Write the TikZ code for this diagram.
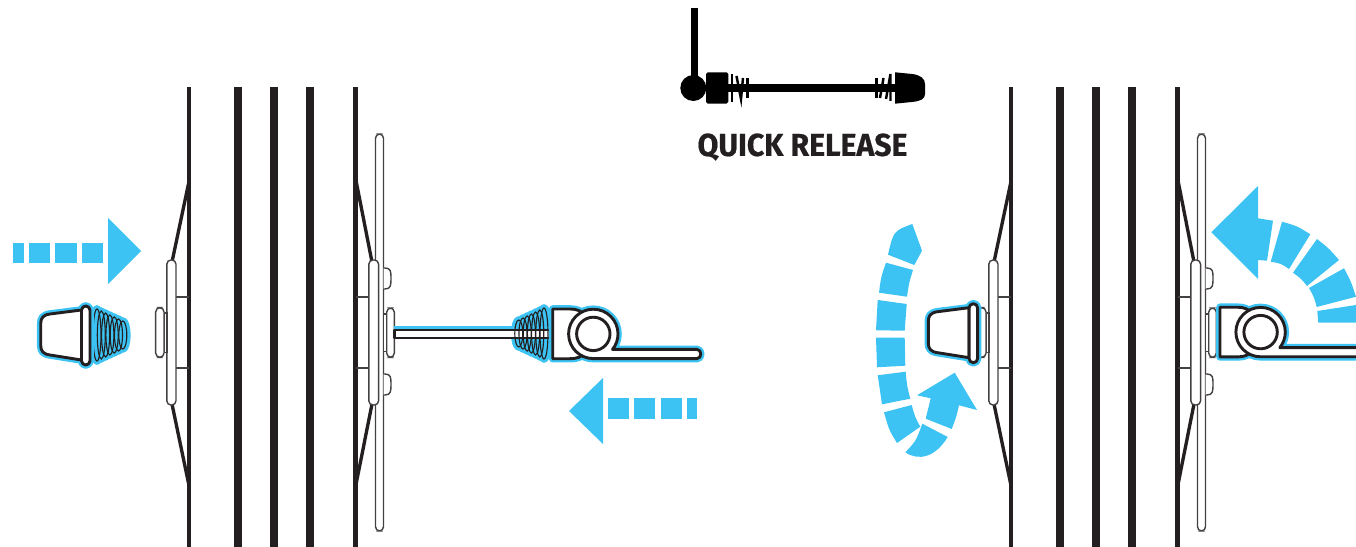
\documentclass[tikz,border=0pt]{standalone}
\usepackage{fontspec}
\setmainfont{Fira Sans}
\definecolor{qrblue}{HTML}{3CC3F3}
\definecolor{qrblack}{HTML}{231F20}
\tikzset{
  tube/.style={fill=qrblack, draw=none},
  spoke/.style={draw=qrblack, line width=1.9pt},
  thinpart/.style={draw=qrblack!85, fill=white, line width=0.8pt},
  softpart/.style={thinpart, rounded corners=2.4pt},
  glow/.style={draw=qrblue, fill=qrblue, line width=4.3pt, line join=round},
  part/.style={draw=qrblack, fill=white, line width=1.65pt, line join=round},
  coil/.style={draw=qrblack, line width=0.65pt},
  flash/.style={fill=qrblue, draw=none},
  solid black/.style={fill=black, draw=none},
  zig/.style={draw=black, line width=1.4pt}
}
\newcommand{\wheelset}{
\fill[tube] (187.3,87) rectangle (191.3,547);
\fill[tube] (233.7,87) rectangle (241.7,547);
\fill[tube] (270,87) rectangle (277.7,547);
\fill[tube] (306,87) rectangle (313.7,547);
\fill[tube] (353.3,87) rectangle (357.7,547);
\draw[spoke] (189.3,180) -- (172,262);
\draw[spoke] (189.3,487) -- (172,404);
\draw[spoke] (355.5,178) -- (372,262);
\draw[spoke] (355.5,487) -- (372,404);
\draw[thinpart] (176,297) -- (189,297);
\draw[thinpart] (176,368) -- (189,368);
\draw[thinpart] (356,297) -- (369,297);
\draw[thinpart] (356,368) -- (369,368);
\draw[softpart] (375.5,134) rectangle (383.5,531);
\draw[softpart] (166.8,260) rectangle (176,405);
\draw[softpart] (368.8,260) rectangle (378.6,405);
\draw[thinpart] (164,313) rectangle (167,352.5);
\draw[softpart] (155.7,307.7) rectangle (164,357.3);
\draw[thinpart] (383.5,314) rectangle (386.7,351.7);
\draw[softpart] (386.7,308) rectangle (394.3,357.3);
\draw[thinpart] (383.5,268) -- (385,268) .. controls (391,268) and (391,272) .. (391,278) .. controls (391,285) and (391,289) .. (385,289) -- (383.5,289);
\draw[thinpart] (383.5,374) -- (385,374) .. controls (391,374) and (391,378) .. (391,384) .. controls (391,391) and (391,395) .. (385,395) -- (383.5,395);
}
\newcommand{\conebody}{(81.5,310) -- (50,314) .. controls (43,315) and (40.7,318) .. (40.7,324) -- (40.7,345) .. controls (40.7,351) and (43,354) .. (50,355) -- (81.5,360) -- cycle}
\newcommand{\coneflange}{[rounded corners=2.4pt] (81.5,306) rectangle (90,365)}
\newcommand{\coneset}{
\draw[glow] \conebody;
\draw[glow] \coneflange;
\draw[part] \conebody;
\draw[part] \coneflange;
}
\newcommand{\clampbody}{(552.7,309) -- (570,309) .. controls (577,309) and (581,311) .. (585,315) -- (585,353) .. controls (581,357) and (577,358.7) .. (570,358.7) -- (552.7,358.7) -- cycle}
\newcommand{\leverbody}{(593.3,358.6) arc[start angle=90, end angle=399, radius=24.7] -- (697,349.4) .. controls (702,349.4) and (702,358.6) .. (697,358.6) -- cycle}
\newcommand{\leverset}{
\draw[glow] \clampbody;
\draw[glow] \leverbody;
\draw[part] \clampbody;
\draw[part] \leverbody;
\draw[part] (593.3,333.9) circle[radius=16.7];
}
\begin{document}
\begin{tikzpicture}[x=0.02cm, y=-0.02cm]
\useasboundingbox (0,0) rectangle (1356,547);
\wheelset
\begin{scope}[shift={(822,0)}]
\wheelset
\end{scope}
\foreach \i in {0,...,6} \draw[glow] ({97+4.3*\i},335) ellipse[x radius=4, y radius={26-2*\i}];
\foreach \i in {0,...,6} \draw[coil] ({97+4.3*\i},335) ellipse[x radius=4, y radius={26-2*\i}];
\coneset
\begin{scope}[shift={(887.6,-2.3)}]
\coneset
\end{scope}
\fill[flash] (394,326) rectangle (553,331);
\foreach \i in {0,...,6} \draw[glow] ({544-4.2*\i},333.5) ellipse[x radius=4, y radius={25.5-2*\i}];
\draw[part, line width=1.4pt] (394.3,330) rectangle (553,338);
\foreach \i in {0,...,6} \draw[coil] ({544-4.2*\i},333.5) ellipse[x radius=4, y radius={25.5-2*\i}];
\leverset
\begin{scope}[shift={(667.3,-1.8)}]
\leverset
\end{scope}
\fill[flash] (13,243) rectangle (24,263);
\fill[flash] (29,243) rectangle (50,263);
\fill[flash] (55,243) rectangle (76.6,263);
\fill[flash] (82,243) rectangle (103,263);
\fill[flash] (108,218) -- (141,251) -- (108,284) -- cycle;
\fill[flash] (569,411) -- (603,378) -- (603,444) -- cycle;
\fill[flash] (608,398) rectangle (629,419);
\fill[flash] (634,398) rectangle (655,419);
\fill[flash] (661,398) rectangle (682,419);
\fill[flash] (687,398) rectangle (697,419);
\fill[flash] (912.3,224) -- (922,250.7) -- (914.3,265) -- (888,254.7) .. controls (893.5,231) .. cycle;
\fill[flash] (886,262.7) -- (913,270) .. controls (909,283) .. (907,296.7) -- (879,292.7) .. controls (881,277) .. cycle;
\fill[flash] (877.7,300) -- (906.7,304) .. controls (905,317) .. (904.7,330.7) -- (876,330.3) .. controls (876,315) .. cycle;
\fill[flash] (876,337.7) -- (904.7,337.7) .. controls (904.5,352) .. (905.3,365.7) -- (877,367.3) .. controls (876,352.5) .. cycle;
\fill[flash] (877.7,375.3) -- (905.7,371.7) .. controls (907,386) .. (910.3,398.7) -- (882,404.3) .. controls (879,390) .. cycle;
\fill[flash] (884,412.3) -- (911.7,405) .. controls (915,417) .. (920.3,426.7) -- (897,443) .. controls (889,430) .. cycle;
\fill[flash] (922.3,423.7) -- (947.7,437) .. controls (935,458) and (918,461) .. (905.3,452.3) .. controls (916,441) .. cycle;
\fill[flash] (925.7,418.7) -- (930.7,398.3) -- (917,395.3) -- (954.7,372.7) -- (977,410) -- (959,405.3) .. controls (956,418) .. (951.7,429) -- cycle;
\fill[flash] (1258,186) -- (1211.3,232.3) -- (1258,279) -- (1258,260) -- (1267,260.7) -- (1273,220.7) .. controls (1266,218.8) .. (1258,218.3) -- cycle;
\fill[flash] (1282,221.7) .. controls (1297,226) .. (1310.3,234.3) -- (1289,269) .. controls (1281,263.5) .. (1270.7,261.7) -- cycle;
\fill[flash] (1317,239) .. controls (1329,248.5) .. (1339,260) -- (1307,286) .. controls (1301,278.5) .. (1293,272.7) -- cycle;
\fill[flash] (1344,268.3) .. controls (1351,281.5) .. (1356,296.7) -- (1316.7,307) .. controls (1314,297) .. (1309,288) -- cycle;
\fill[flash] (1356,305) -- (1356,322.7) -- (1318.3,322.7) .. controls (1318.3,316.5) .. (1317.3,311) -- cycle;
\fill[solid black] (690.7,8) rectangle (698.3,85);
\fill[solid black] (693.3,88) circle[radius=13];
\fill[solid black, rounded corners=1pt] (706,72.3) rectangle (728.3,103.7);
\fill[solid black] (728,84) rectangle (896,91.7);
\fill[solid black] (895,72.3) -- (912,74) .. controls (921,75) and (925,79) .. (925,84) -- (925,94) .. controls (925,99) and (921,101) .. (912,102) -- (895,103.7) -- cycle;
\draw[zig] (732,74) -- (732,102);
\draw[zig] (736.5,76) -- (741,99) -- (743,78);
\draw[zig] (747.5,78) -- (747.5,98);
\draw[zig] (876.5,78) -- (876.5,98);
\draw[zig] (880,98) -- (883.5,78);
\draw[zig] (886,99) -- (890.5,74) -- (890.5,101);
\node[font=\bfseries\fontsize{18}{18}\selectfont\addfontfeature{FakeBold=0.6}, text=qrblack, inner sep=0pt, xscale=0.955] (title) at (802.5,147) {QUICK RELEASE};
\end{tikzpicture}
\end{document}
